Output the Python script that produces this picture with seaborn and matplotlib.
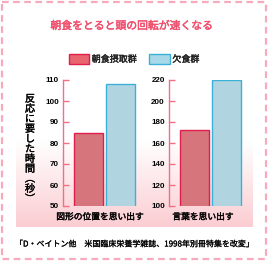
import numpy as np
import pandas as pd
import matplotlib
matplotlib.use("Agg")
import matplotlib.pyplot as plt
import matplotlib.patheffects as pe
import seaborn as sns
from matplotlib.patches import Rectangle, Patch
from matplotlib.colors import to_rgb

# ---- data ----
title = "朝食をとると頭の回転が速くなる"
groups = ["朝食摂取群", "欠食群"]
tasks = ["図形の位置を思い出す", "言葉を思い出す"]
values_shape = [85, 108]
values_word = [172, 220]
yticks_shape = [50, 60, 70, 80, 90, 100, 110]
yticks_word = [100, 120, 140, 160, 180, 200, 220]
ylabel = "反応に要した時間︵秒︶"
source = "「D・ベイトン他　米国臨床栄養学雑誌、1998年別冊特集を改変」"

sns.set_theme(style="white")
plt.rcParams['font.family'] = ['Noto Sans CJK JP', 'DejaVu Sans']


def bold(color, w=0.3):
    return [pe.withStroke(linewidth=w, foreground=color)]


W, H = 268, 262
fig = plt.figure(figsize=(W / 100, H / 100), dpi=100)

# background axes in pixel coordinates
bg = fig.add_axes([0, 0, 1, 1], zorder=-10)
bg.set_xlim(0, W)
bg.set_ylim(H, 0)
bg.axis("off")
top_c = np.array(to_rgb("#ffffff"))
bot_c = np.array(to_rgb("#fbcdd2"))
n = 100
t = np.linspace(0, 1, n)[:, None]
grad = (top_c[None, :] * (1 - t) + bot_c[None, :] * t)[:, None, :]
bg.imshow(grad, extent=(16, 253, 227, 140), aspect="auto", interpolation="bilinear")
bg.add_patch(Rectangle((2, 2), 264, 257, fill=False, edgecolor="#f7a9bd",
                       lw=1.6, linestyle=(0, (3, 2))))

fill_cols = ["#e8646f", "#a9d9e8"]
edge_cols = ["#e01e4c", "#3cb0d6"]
spine_col = "#f26f86"


def px_axes(x0, y0, x1, y1):
    return fig.add_axes([x0 / W, 1 - y1 / H, (x1 - x0) / W, (y1 - y0) / H])


def draw(ax, vals, ticks, task, xlab_px):
    df = pd.DataFrame({"group": groups, "value": vals})
    sns.barplot(data=df, x="group", y="value", hue="group", palette=fill_cols,
                width=0.9, ax=ax, legend=False, dodge=False)
    for p, ec in zip(ax.patches, edge_cols):
        p.set_edgecolor(ec)
        p.set_linewidth(1.0)
    ax.set_ylim(ticks[0], ticks[-1])
    ax.set_xlim(-0.78, 1.6)
    ax.set_yticks(ticks)
    ax.set_yticklabels([str(v) for v in ticks], fontsize=5.8, fontweight="bold",
                       family=["Liberation Sans", "DejaVu Sans"])
    ax.tick_params(axis="y", direction="in", length=4, width=1, color=spine_col,
                   pad=3, left=True, labelcolor="black")
    ax.set_xticks([])
    ax.set_ylabel("")
    ax.set_xlabel(task, fontsize=6.3, color="black")
    ax.xaxis.label.set_path_effects(bold("black", 0.25))
    ax.xaxis.set_label_coords(xlab_px, -11 / 126)
    ax.xaxis.label.set_va("center")
    for s in ["top", "right", "bottom"]:
        ax.spines[s].set_visible(False)
    ax.spines["left"].set_color(spine_col)
    ax.spines["left"].set_linewidth(1.0)
    ax.patch.set_alpha(0)


ax1 = px_axes(63, 80, 140, 206)
ax2 = px_axes(169, 80, 246, 206)
draw(ax1, values_shape, yticks_shape, tasks[0], (100 - 63) / 77)
draw(ax2, values_word, yticks_word, tasks[1], (203 - 169) / 77)

# title
fig.text(132 / W, 1 - 26 / H, title, ha="center", va="center", fontsize=7.8,
         color="#f0506e", path_effects=bold("#f0506e", 0.35))

# legend
handles = [Patch(facecolor=f, edgecolor=e, lw=1.0) for f, e in zip(fill_cols, edge_cols)]
leg = fig.legend(handles, groups, loc="center", bbox_to_anchor=(134 / W, 1 - 59 / H),
                 ncol=2, frameon=False, handlelength=2.3, handleheight=1.3,
                 handletextpad=0.25, columnspacing=1.4, prop={"size": 6.5})
for txt in leg.get_texts():
    txt.set_path_effects(bold("black", 0.25))

# vertical y label: one character per em box, stacked top to bottom
fs = 7.3
em = fs * 100 / 72
y0, step = 98.0, 10.0
for i, ch in enumerate(ylabel):
    yc = y0 + i * step
    fig.text(30 / W, 1 - (yc + 0.38 * em) / H, ch, ha="center", va="baseline",
             fontsize=fs, color="black", path_effects=bold("black", 0.25))

# source
fig.text(15 / W, 1 - 244 / H, source, ha="left", va="center", fontsize=5.75,
         color="black", path_effects=bold("black", 0.15))

fig.savefig("out.png", dpi=100)
